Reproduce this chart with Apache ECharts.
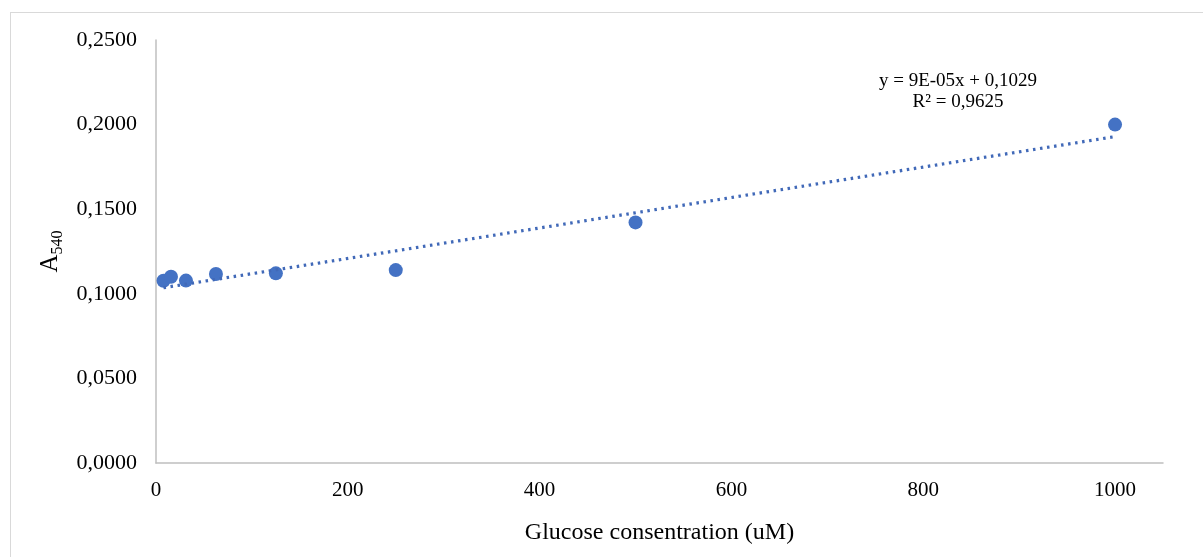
<!DOCTYPE html>
<html>
<head>
<meta charset="utf-8">
<script src="https://cdn.jsdelivr.net/npm/echarts@6/dist/echarts.min.js"></script>
<style>
  html, body { margin: 0; padding: 0; background: #fff; }
  #wrap { position: relative; width: 1203px; height: 557px; overflow: hidden; }
  #frame { position: absolute; left: 10px; top: 12px; width: 1300px; height: 700px;
           border: 1px solid #d9d9d9; box-sizing: border-box; }
  #chart { position: absolute; left: 0; top: 0; width: 1203px; height: 557px; }
</style>
</head>
<body>
<div id="wrap">
  <div id="frame"></div>
  <div id="chart"></div>
</div>
<script>
// Glucose standard curve: concentration (uM) vs absorbance at 540 nm
const concentrations = [7.8125, 15.625, 31.25, 62.5, 125, 250, 500, 1000];
const absorbances   = [0.1077, 0.1101, 0.1078, 0.1117, 0.1121, 0.1140, 0.1422, 0.2000];

// Linear trendline coefficients as reported on the chart
const trendSlope = 0.00009;
const trendIntercept = 0.1029;
const trendR2 = 0.9625;

const yTicks = [0, 0.05, 0.10, 0.15, 0.20, 0.25];
const xTicks = [0, 200, 400, 600, 800, 1000];

const commaNum = (v, d) => v.toFixed(d).replace('.', ',');
const sci = v => {
  const e = Math.floor(Math.log10(Math.abs(v)));
  const m = Math.round(v / Math.pow(10, e));
  const es = (e < 0 ? '-' : '+') + String(Math.abs(e)).padStart(2, '0');
  return m + 'E' + es;
};

const points = concentrations.map((x, i) => [x, absorbances[i]]);
const xMin = Math.min(...concentrations), xMax = Math.max(...concentrations);
const trend = [xMin, xMax].map(x => [x, trendIntercept + trendSlope * x]);

const serif = '"Liberation Serif", "DejaVu Serif", serif';
const blue = '#4472C4';

const chart = echarts.init(document.getElementById('chart'), null, { renderer: 'canvas' });
chart.setOption({
  animation: false,
  backgroundColor: 'transparent',
  grid: { left: 156, right: 40, top: 40, bottom: 94, containLabel: false },
  xAxis: {
    type: 'value', min: 0, max: 1050, interval: 200,
    name: 'Glucose consentration (uM)', nameLocation: 'middle', nameGap: 58,
    nameTextStyle: { fontFamily: serif, fontSize: 24, color: '#000' },
    axisLine: { show: true, lineStyle: { color: '#bfbfbf', width: 1.5 } },
    axisTick: { show: false },
    splitLine: { show: false },
    axisLabel: {
      fontFamily: serif, fontSize: 21, color: '#000', margin: 17,
      showMaxLabel: false,
      formatter: v => xTicks.includes(v) ? String(v) : ''
    }
  },
  yAxis: {
    type: 'value', min: 0, max: 0.25, interval: 0.05,
    name: '{a|A}{s|540}', nameLocation: 'middle', nameGap: 86, nameRotate: 90,
    nameTextStyle: {
      rich: {
        a: { fontFamily: serif, fontSize: 25, color: '#000', lineHeight: 30, verticalAlign: 'middle' },
        s: { fontFamily: serif, fontSize: 16, color: '#000', lineHeight: 30, verticalAlign: 'bottom' }
      }
    },
    axisLine: { show: true, lineStyle: { color: '#bfbfbf', width: 1.5 } },
    axisTick: { show: false },
    splitLine: { show: false },
    axisLabel: {
      fontFamily: serif, fontSize: 22, color: '#000', margin: 19,
      formatter: v => commaNum(v, 4)
    }
  },
  series: [
    {
      type: 'scatter', data: points, symbol: 'circle', symbolSize: 14,
      itemStyle: { color: blue, opacity: 1 }, z: 2
    },
    {
      type: 'line', data: trend, symbol: 'none', silent: true, z: 3,
      lineStyle: { color: '#4169b8', width: 3.2, type: [2.5, 4.6], opacity: 1 }
    }
  ],
  graphic: [
    {
      type: 'text', x: 958, y: 71,
      style: {
        text: 'y = ' + sci(trendSlope) + 'x + ' + commaNum(trendIntercept, 4) + '\nR² = ' + commaNum(trendR2, 4),
        font: '19px ' + serif, fill: '#000', align: 'center', verticalAlign: 'top', lineHeight: 21
      }
    }
  ]
});
</script>
</body>
</html>
